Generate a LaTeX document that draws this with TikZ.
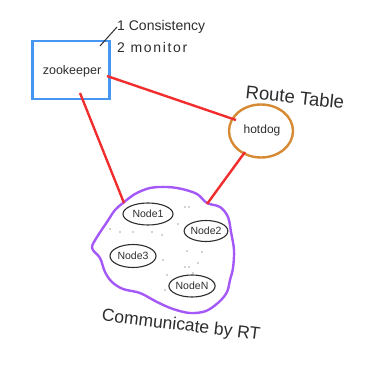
\documentclass[tikz,border=0pt]{standalone}
\usepackage{fontspec}
\setmainfont{Liberation Sans}
\usetikzlibrary{shapes.geometric}
\definecolor{zkblue}{RGB}{70,150,242}
\definecolor{linkred}{RGB}{242,45,45}
\definecolor{hdorange}{RGB}{214,138,52}
\definecolor{cloudpurple}{RGB}{165,88,248}
\definecolor{ink}{RGB}{45,45,45}
\begin{document}
\begin{tikzpicture}[x=1pt,y=-1pt,
  every node/.style={text=ink},
  zkbox/.style={draw=zkblue, line width=2.8pt, minimum width=77pt, minimum height=58pt, inner sep=0pt},
  hdring/.style={ellipse, draw=hdorange, line width=2.4pt, minimum width=64pt, minimum height=53pt, inner sep=0pt},
  member/.style={ellipse, draw=ink, line width=1.1pt, inner sep=0pt, font=\fontsize{10.5}{11}\selectfont},
  link/.style={draw=linkred, line width=2.4pt},
  cloudline/.style={draw=cloudpurple, line width=2.4pt},
  leader/.style={draw=ink, line width=1pt},
  speck/.style={fill=gray!70, draw=none},
  note/.style={font=\fontsize{14}{15}\selectfont, anchor=west, inner sep=0pt},
  big/.style={font=\fontsize{17.5}{19}\selectfont, inner sep=0pt}]
\useasboundingbox (0,0) rectangle (371,374);

% coordination service
\node[zkbox] (zk) at (71,70) {};
\node[font=\fontsize{12.5}{13}\selectfont] (zklabel) at (72,71) {zookeeper};

% its duties
\node[note] (duty1) at (117,27) {1 Consistency};
\node[note, font=\fontsize{14}{15}\selectfont\addfontfeatures{LetterSpace=12}] (duty2) at (117,47) {2 monitor};
\coordinate (leadstart) at (100,46);
\draw[leader] (leadstart) -- (duty1.west);

% routing table holder
\node[hdring] (hd) at (261,131) {};
\node[font=\fontsize{12}{13}\selectfont] (hdlabel) at (262,130) {hotdog};
\node[big, font=\fontsize{18.5}{20}\selectfont, rotate=-6] (rt) at (295,97) {Route Table};

% cluster outline
\draw[cloudline] plot[smooth cycle, tension=0.55] coordinates {
  (123,203) (135,194) (150,188) (167,187) (182,189) (197,194) (207,203)
  (220,207) (228,217) (231,232) (234,250) (233,268) (230,280) (227,292)
  (219,302) (206,311) (190,313) (173,309) (157,302) (140,293) (123,289)
  (112,282) (105,272) (100,258) (92,248) (97,237) (107,222) (115,210)};
\coordinate (cloudnw) at (124,203);
\coordinate (cloudne) at (207,204);

% cluster members
\node[member, minimum width=50pt, minimum height=22pt] (n1) at (148,214) {Node1};
\node[member, minimum width=40pt, minimum height=21pt] (n2) at (206,231) {Node2};
\node[member, minimum width=46pt, minimum height=23pt] (n3) at (133,256) {Node3};
\node[member, minimum width=42pt, minimum height=22pt] (nN) at (192,286) {NodeN};

% scattered dots
\foreach \p in {(185,207),(189,207),(178,224),(110,229),(120,232),(133,232),
  (152,232),(162,235),(187,251),(202,252),(163,260),(185,267),(189,267),
  (198,263),(167,275),(193,273),(165,290)}
  \fill[speck] \p circle (0.9);

% red links
\coordinate (zkright) at (107,76);
\coordinate (zkbottom) at (80,93);
\coordinate (hdleft) at (236,120);
\coordinate (hdbottom) at (245,152);
\draw[link] (zkright) -- (hdleft);
\draw[link] (zkbottom) -- (cloudnw);
\draw[link] (hdbottom) -- (cloudne);

\node[big, rotate=-7] (comm) at (181,326) {Communicate by RT};
\end{tikzpicture}
\end{document}
